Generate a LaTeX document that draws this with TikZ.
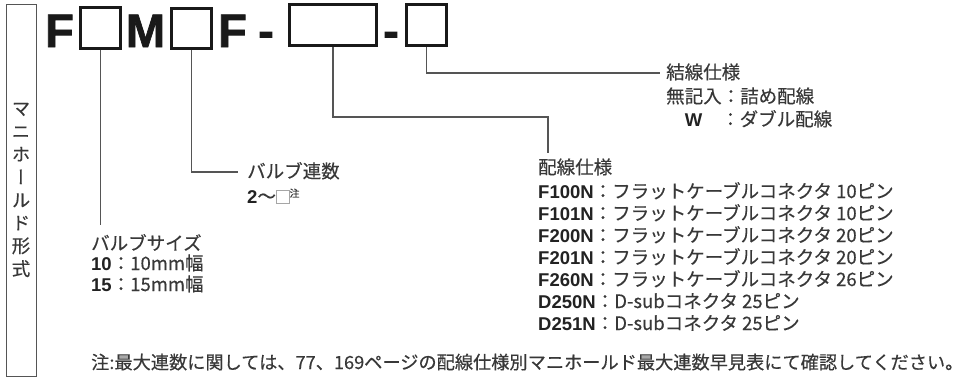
\documentclass[tikz,border=0pt]{standalone}
\usepackage{fontspec}
\setmainfont{Liberation Sans}
\newfontfamily\jp[FakeBold=0.4]{Noto Sans CJK JP}
\newfontfamily\jpvert[RawFeature=+vert,FakeBold=0.4]{Noto Sans CJK JP}
\newfontfamily\heavy[FakeBold=1.6]{Liberation Sans Bold}
\usepackage{tikz}
\usetikzlibrary{positioning}
\definecolor{ink}{HTML}{383838}
\definecolor{codeink}{HTML}{222222}
\definecolor{leadgray}{HTML}{555555}
\newcommand\bld[1]{{\normalfont\bfseries\color{codeink}#1}}
\newcommand\emptymark{{\color{gray!70}\setlength\fboxrule{0.8pt}\setlength\fboxsep{0pt}\fbox{\rule{0pt}{12pt}\rule{12pt}{0pt}}}}

\begin{document}
\begin{tikzpicture}[x=1pt,y=-1pt,
  slot/.style={draw=black!90,line width=3pt,inner sep=0pt},
  leader/.style={draw=leadgray,line width=1.1pt},
  big/.style={font=\fontsize{47}{47}\selectfont\heavy,text=black!90,inner sep=0pt,anchor=base},
  txt/.style={anchor=west,inner sep=0pt,text height=15pt,text depth=3pt,text=ink,font=\fontsize{18.5}{22}\selectfont\jp}]
  \useasboundingbox (0,0) rectangle (974,381);
  % side caption
  \node[draw=leadgray,line width=1pt,minimum width=30pt,minimum height=372pt,inner sep=0pt] (frame) at (21,190) {};
  \node[text=ink,font=\fontsize{18.5}{22.9}\selectfont\jpvert,align=center,inner sep=0pt] (kind) at (21,190) {マ\\ニ\\ホ\\ー\\ル\\ド\\形\\式};
  % model code
  \node[big] (f1) at (59.5,47) {F};
  \node[slot,minimum width=40pt,minimum height=41pt] (size) at (100.5,28) {};
  \node[big] (m) at (145.5,47) {M};
  \node[slot,minimum width=40pt,minimum height=40pt] (count) at (191.5,28.5) {};
  \node[big] (f2) at (232.5,47) {F};
  \node[big] (d1) at (266,47) {-};
  \node[slot,minimum width=87pt,minimum height=41pt] (wiring) at (333,25) {};
  \node[big] (d2) at (391,47) {-};
  \node[slot,minimum width=40pt,minimum height=41pt] (joint) at (426.5,25) {};
  % valve size
  \node[txt] (sizehead) at (91,244) {バルブサイズ};
  \node[txt] (size10) at (91,264) {\bld{10}：10mm幅};
  \node[txt] (size15) at (91,285) {\bld{15}：15mm幅};
  \draw[leader,shorten >=10pt] (size.south) -- (size.south |- sizehead.north);
  % number of valves
  \node[txt] (counthead) at (247,172) {バルブ連数};
  \node[txt] (countrow) at (247,197) {\bld{2}～\emptymark\raisebox{6pt}{\fontsize{10}{10}\selectfont 注}};
  \draw[leader] (count.south) |- ([xshift=-9pt]counthead.west);
  % wiring
  \coordinate (wirebend) at (548,117);
  \node[txt] (wirehead) at (538,168) {配線仕様};
  \foreach \tag/\desc [count=\i from 0] in {F100N/フラットケーブルコネクタ 10ピン,F101N/フラットケーブルコネクタ 10ピン,F200N/フラットケーブルコネクタ 20ピン,F201N/フラットケーブルコネクタ 20ピン,F260N/フラットケーブルコネクタ 26ピン,D250N/D-subコネクタ 25ピン,D251N/D-subコネクタ 25ピン}
    \node[txt] (wire\i) at (538,{192+22*\i}) {\bld{\tag}：\desc};
  \draw[leader,shorten >=6pt] (wiring.south) |- (wirebend) -- (wirebend |- wirehead.north);
  % joint wiring
  \node[txt] (jointhead) at (666,73) {結線仕様};
  \node[txt] (joint1) at (666,97) {無記入：詰め配線};
  \node[txt] (joint2) at (666,120) {\makebox[55pt]{\bld{W}}：ダブル配線};
  \draw[leader] (joint.south) |- ([xshift=-6pt]jointhead.west);
  % note
  \node[txt,font=\fontsize{18.2}{22}\selectfont\jp] (note) at (91,363) {注:最大連数に関しては、77、169ページの配線仕様別マニホールド最大連数早見表にて確認してください。};
\end{tikzpicture}
\end{document}
